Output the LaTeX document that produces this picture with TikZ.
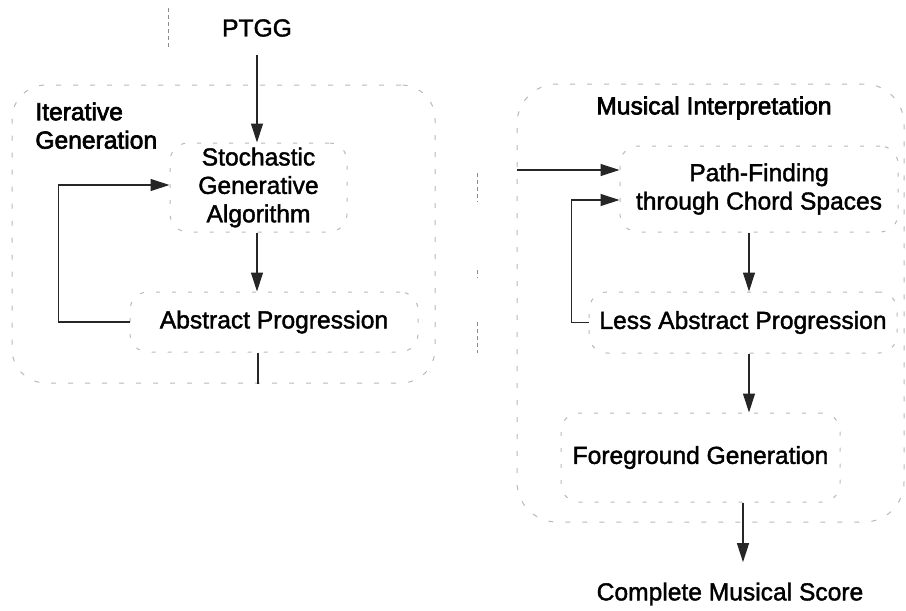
\documentclass[tikz,border=0pt]{standalone}
\usepackage{fontspec}
\setmainfont{Liberation Sans}
\newfontfamily\stagefont[FakeBold=1.6]{Liberation Sans}
\newfontfamily\groupfont[FakeBold=2.6]{Liberation Sans}
\usetikzlibrary{arrows.meta,calc}
\begin{document}
\begin{tikzpicture}[x=0.5pt,y=-0.5pt,
  lbl/.style={font=\stagefont\fontsize{12.3}{14.2}\selectfont, inner sep=0pt, align=center},
  grouplbl/.style={font=\groupfont\fontsize{12.3}{14.2}\selectfont, inner sep=0pt, align=center},
  cluster/.style={draw=black!28, line width=0.5pt, dash pattern=on 2.5pt off 6pt,
                  rounded corners=17pt, inner sep=0pt, rectangle},
  stagebox/.style={draw=black!28, line width=0.5pt, dash pattern=on 2pt off 6pt,
                   rounded corners=9pt, inner sep=0pt, rectangle, align=center,
                   font=\stagefont\fontsize{12.3}{14.2}\selectfont},
  flow/.style={draw=black!85, line width=0.6pt, -{Triangle[length=9.5pt,width=6pt]}},
  link/.style={draw=black!85, line width=0.6pt},
  scanmark/.style={draw=black!45, line width=0.5pt, dash pattern=on 2pt off 1.5pt}]
\useasboundingbox (0,0) rectangle (906,611);

% clusters
\node[cluster, minimum width=211.5pt, minimum height=149pt] (itgen) at (223.5,234) {};
\node[cluster, minimum width=193.5pt, minimum height=219pt, rounded corners=20pt] (musint) at (710.5,303) {};
\node[grouplbl, anchor=north west, align=left] (itlabel) at (35,102) {Iterative\\Generation};
\node[grouplbl] (milabel) at (714,108) {Musical Interpretation};

% stages
\node[lbl] (ptgg) at (257,28) {PTGG};
\node[stagebox, minimum width=88.5pt, minimum height=44.5pt] (sga) at (258.5,187.5)
  {Stochastic\\Generative\\Algorithm};
\node[stagebox, minimum width=144pt, minimum height=30pt] (ap) at (274,322) {Abstract Progression};
\node[stagebox, minimum width=139pt, minimum height=43pt] (pf) at (759,189)
  {Path-Finding\\through Chord Spaces};
\node[stagebox, minimum width=154pt, minimum height=30.5pt] (lap) at (743,322.5) {Less Abstract Progression};
\node[stagebox, minimum width=139.5pt, minimum height=44.5pt] (fg) at (700.5,457.5) {Foreground Generation};
\node[lbl] (score) at (730,594) {Complete Musical Score};

% connectors
\draw[flow, shorten <=9pt] ([xshift=-0.75pt]sga.north |- ptgg.south) -- ([xshift=-0.75pt]sga.north);
\draw[flow] ([xshift=-0.75pt]sga.south) -- ([xshift=-0.75pt]sga.south |- ap.north);
\draw[flow] (ap.west) -- ++(-35.5pt,0) |- ([yshift=1.25pt]sga.west);
\draw[link] ([xshift=-8pt]ap.south) -- ([xshift=-8pt]ap.south |- itgen.south);

\draw[flow] ([yshift=9.5pt]pf.west -| musint.west) -- ([yshift=9.5pt]pf.west);
\draw[flow] ([xshift=-5pt]pf.south) -- ([xshift=-5pt]pf.south |- lap.north);
\draw[flow] (lap.west) -- ++(-8.5pt,0) |- ([yshift=-5.5pt]pf.west);
\draw[flow] ([xshift=3pt]lap.south) -- ([xshift=3pt]lap.south |- fg.north);
\draw[flow, shorten >=10pt] ([xshift=21.25pt]fg.south) -- ([xshift=21.25pt]fg.south |- score.north);

% stray marks in the margins
\draw[scanmark] (168,8) -- (168,47);
\draw[scanmark] (477,173) -- (477,202);
\draw[scanmark] (477,270) -- (477,278);
\draw[scanmark] (477,322) -- (477,353);
\end{tikzpicture}
\end{document}
